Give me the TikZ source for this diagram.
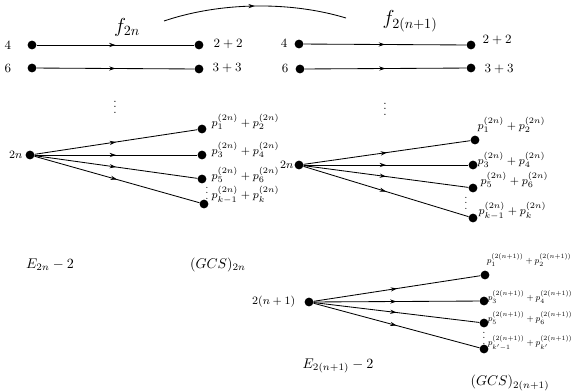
\documentclass[tikz,border=0pt]{standalone}
\usepackage{amsmath,amssymb}
\usepackage{tikz}
\usetikzlibrary{positioning, arrows.meta, decorations.markings}

\begin{document}
\begin{tikzpicture}[
    x=0.025cm, y=-0.025cm,
    dot/.style={circle, fill=black, inner sep=0pt, minimum size=0.22cm},
    lbl/.style={font=\small, inner sep=1pt},
    plbl/.style={font=\footnotesize, anchor=west, inner sep=1pt},
    pplbl/.style={plbl, inner sep=0.5pt, scale=0.77, transform shape},
    bigl/.style={font=\normalsize, inner sep=1pt},
    midarr/.style={line width=0.6pt, postaction={decorate},
        decoration={markings, mark=at position 0.5 with {\arrow{Stealth[length=4.5pt, width=3pt]}}}},
]
\useasboundingbox (0,0) rectangle (577,391);

% ---------- left block: f_{2n} ----------
\node[font=\Large] (f1) at (127,27) {$f_{2n}$};

\node[lbl] (n4a) at (8,45) {$4$};
\node[dot] (a4) at (32,45) {};
\node[dot] (b4) at (199,45) {};
\node[lbl, anchor=west] (s4a) at (212,44) {$2+2$};
\draw[midarr] (a4) -- (b4);

\node[lbl] (n6a) at (8,68) {$6$};
\node[dot] (a6) at (32,68) {};
\node[dot] (b6) at (199,69) {};
\node[lbl, anchor=west] (s6a) at (211,68) {$3+3$};
\draw[midarr] (a6) -- (b6);

\node[font=\footnotesize] (vd1) at (115,103) {$\vdots$};

% fan 2n
\node[font=\footnotesize, anchor=east, inner sep=1pt] (m1) at (24,155) {$2n$};
\node[dot] (s1) at (30,155) {};
\node[dot] (t1) at (202,129) {};
\node[dot] (t2) at (202,155) {};
\node[dot] (t3) at (202,179) {};
\node[dot] (t4) at (204,204) {};
\draw[midarr] (s1) -- (t1);
\draw[midarr] (s1) -- (t2);
\draw[midarr] (s1) -- (t3);
\draw[midarr] (s1) -- (t4);
\node[font=\scriptsize] (vd2) at (207,189) {$\vdots$};

\node[plbl] (q1) at (210,122) {$p_1^{(2n)}+p_2^{(2n)}$};
\node[plbl] (q2) at (210,150) {$p_3^{(2n)}+p_4^{(2n)}$};
\node[plbl] (q3) at (210,175) {$p_5^{(2n)}+p_6^{(2n)}$};
\node[plbl] (q4) at (210,195) {$p_{k-1}^{(2n)}+p_k^{(2n)}$};

\node[bigl] (e1) at (50,265) {$E_{2n}-2$};
\node[bigl] (g1) at (218,265) {$(GCS)_{2n}$};

% ---------- right block: f_{2(n+1)} ----------
\node[font=\Large] (f2) at (410,21) {$f_{2(n+1)}$};

\node[lbl] (n4b) at (284,43) {$4$};
\node[dot] (c4) at (299,44) {};
\node[dot] (d4) at (471,45) {};
\node[lbl, anchor=west] (s4b) at (481,40) {$2+2$};
\draw[midarr] (c4) -- (d4);

\node[lbl] (n6b) at (285,68) {$6$};
\node[dot] (c6) at (300,69) {};
\node[dot] (d6) at (471,68) {};
\node[lbl, anchor=west] (s6b) at (483,69) {$3+3$};
\draw[midarr] (c6) -- (d6);

\node[font=\footnotesize] (vd3) at (385,105) {$\vdots$};

% fan 2n (right)
\node[font=\footnotesize, anchor=east, inner sep=1pt] (m2) at (295,165) {$2n$};
\node[dot] (s2) at (299,165) {};
\node[dot] (u1) at (475,140) {};
\node[dot] (u2) at (473,165) {};
\node[dot] (u3) at (473,188) {};
\node[dot] (u4) at (473,218) {};
\draw[midarr] (s2) -- (u1);
\draw[midarr] (s2) -- (u2);
\draw[midarr] (s2) -- (u3);
\draw[midarr] (s2) -- (u4);
\node[font=\scriptsize] (vd4) at (466,199) {$\vdots$};

\node[plbl] (r1) at (476,125) {$p_1^{(2n)}+p_2^{(2n)}$};
\node[plbl] (r2) at (476,160) {$p_3^{(2n)}+p_4^{(2n)}$};
\node[plbl] (r3) at (479,180) {$p_5^{(2n)}+p_6^{(2n)}$};
\node[plbl] (r4) at (477,211) {$p_{k-1}^{(2n)}+p_k^{(2n)}$};

% fan 2(n+1)
\node[font=\footnotesize, anchor=east, inner sep=1pt] (m3) at (297,302) {$2(n+1)$};
\node[dot] (s3) at (309,302) {};
\node[dot] (v1) at (485,275) {};
\node[dot] (v2) at (484,301) {};
\node[dot] (v3) at (484,323) {};
\node[dot] (v4) at (484,349) {};
\draw[midarr] (s3) -- (v1);
\draw[midarr] (s3) -- (v2);
\draw[midarr] (s3) -- (v3);
\draw[midarr] (s3) -- (v4);
\node[font=\scriptsize] (vd5) at (484,334) {$\vdots$};

\node[pplbl] (w1) at (486,260) {$p_1^{(2(n+1))}+p_2^{(2(n+1))}$};
\node[pplbl] (w2) at (487,297) {$p_3^{(2(n+1))}+p_4^{(2(n+1))}$};
\node[pplbl] (w3) at (487,318) {$p_5^{(2(n+1))}+p_6^{(2(n+1))}$};
\node[pplbl] (w4) at (487,343) {$p_{k'-1}^{(2(n+1))}+p_{k'}^{(2(n+1))}$};

\node[bigl] (e2) at (338,366) {$E_{2(n+1)}-2$};
\node[bigl] (g2) at (510,383) {$(GCS)_{2(n+1)}$};

% map between the blocks
\coordinate (fa) at (164,21);
\coordinate (fb) at (346,18);
\draw[midarr] (fa) .. controls (220,2) and (290,1) .. (fb);

\end{tikzpicture}
\end{document}
